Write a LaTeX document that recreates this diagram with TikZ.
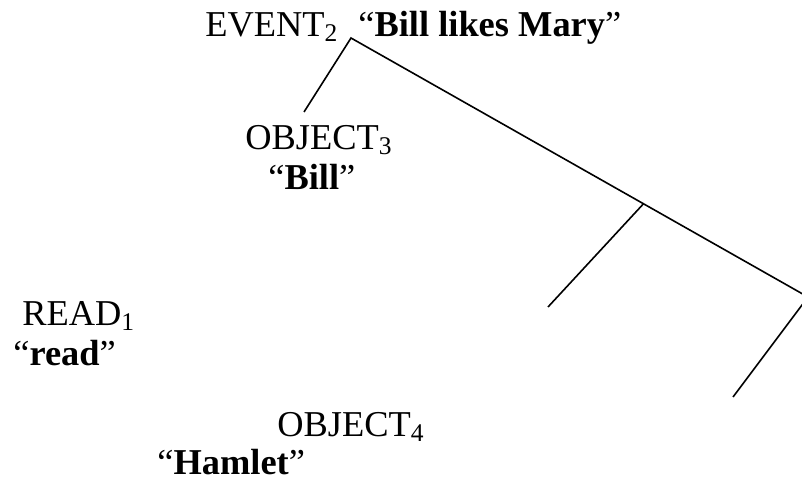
\documentclass[tikz,border=0pt]{standalone}
\usepackage{fontspec}
\setmainfont{Liberation Serif}
\usepackage{tikz}
\usetikzlibrary{positioning,calc}

\begin{document}
\begin{tikzpicture}[x=0.5pt,y=-0.5pt,
  lab/.style={anchor=base west,inner sep=0pt,font=\fontsize{18.2}{22}\selectfont},
  branch/.style={line width=0.8pt}]
\useasboundingbox (0,0) rectangle (802,482);
\clip (0,0) rectangle (802,482);
\node[lab] (event) at (205,36) {EVENT\textsubscript{2}};
\node[lab] (eventw) at (358,36) {“\textbf{Bill likes Mary}”};
\node[lab] (obj3) at (245,149) {OBJECT\textsubscript{3}};
\node[lab] (obj3w) at (268,189) {“\textbf{Bill}”};
\node[lab] (read) at (22,325) {READ\textsubscript{1}};
\node[lab] (readw) at (13,365) {“\textbf{read}”};
\node[lab] (obj4) at (277,436) {OBJECT\textsubscript{4}};
\node[lab] (obj4w) at (157,474) {“\textbf{Hamlet}”};
% tree
\coordinate (top) at (351,38);
\coordinate (subj) at (304,112);
\coordinate (vp) at (808,297);
\coordinate (mid) at ($(top)!0.640!(vp)$);
\coordinate (verb) at (548,307);
\coordinate (objend) at (733,397);
\draw[branch] (subj) -- (top) -- (vp) -- (objend);
\draw[branch] (mid) -- (verb);
\end{tikzpicture}
\end{document}
